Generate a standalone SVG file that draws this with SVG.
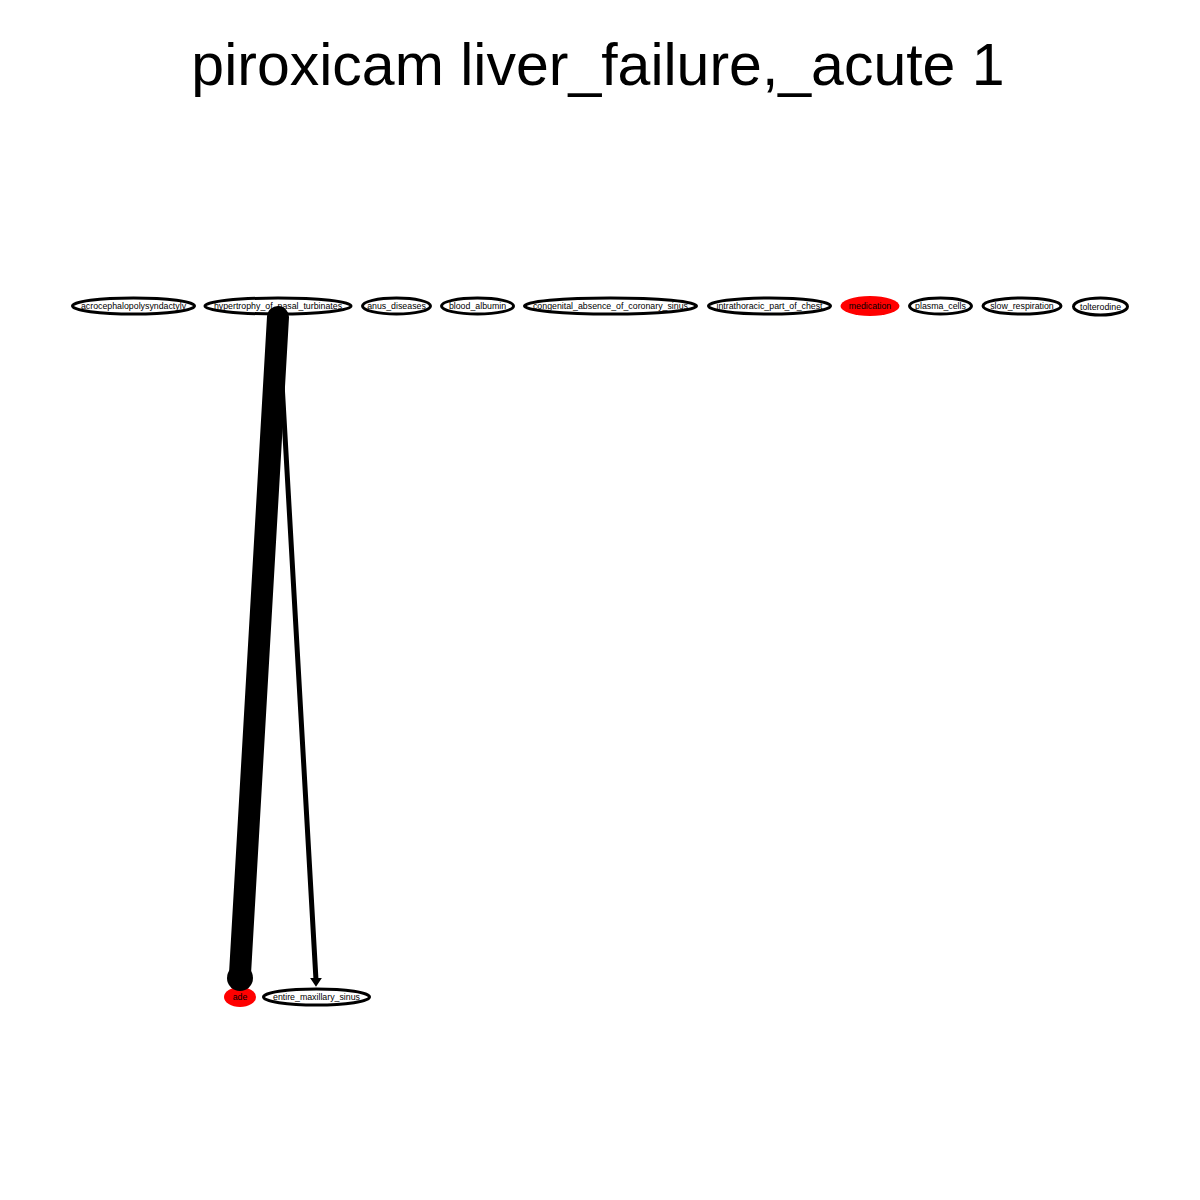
<svg xmlns="http://www.w3.org/2000/svg" width="1200" height="1200" viewBox="0 0 1200 1200">
<style>
.n ellipse{fill:#fff;stroke:#000;stroke-width:3}
.n ellipse.red{fill:#f00;stroke:none}
.n text{font-family:"Liberation Sans",Arial,sans-serif;font-size:8.8px;text-anchor:middle;fill:#000}
.title{font-family:"Liberation Sans",Arial,sans-serif;font-size:59px;text-anchor:middle;fill:#000}
</style>
<rect width="1200" height="1200" fill="#fff"/>
<text class="title" x="598" y="85">piroxicam liver_failure,_acute 1</text>
<g class="n" id="node-acrocephalopolysyndactyly"><ellipse cx="133.5" cy="306" rx="61" ry="8"/><text x="133.5" y="309">acrocephalopolysyndactyly</text></g>
<g class="n" id="node-hypertrophy_of_nasal_turbinates"><ellipse cx="278" cy="306" rx="73" ry="8"/><text x="278" y="309">hypertrophy_of_nasal_turbinates</text></g>
<g class="n" id="node-anus_diseases"><ellipse cx="396.5" cy="306" rx="34" ry="8"/><text x="396.5" y="309">anus_diseases</text></g>
<g class="n" id="node-blood_albumin"><ellipse cx="477.5" cy="306" rx="36" ry="8"/><text x="477.5" y="309">blood_albumin</text></g>
<g class="n" id="node-congenital_absence_of_coronary_sinus"><ellipse cx="610.5" cy="306" rx="86" ry="8"/><text x="610.5" y="309">congenital_absence_of_coronary_sinus</text></g>
<g class="n" id="node-intrathoracic_part_of_chest"><ellipse cx="769.5" cy="306" rx="61" ry="8"/><text x="769.5" y="309">intrathoracic_part_of_chest</text></g>
<g class="n" id="node-medication"><ellipse class="red" cx="870" cy="306" rx="29.5" ry="10"/><text x="870" y="309">medication</text></g>
<g class="n" id="node-plasma_cells"><ellipse cx="940.5" cy="306" rx="31" ry="8"/><text x="940.5" y="309">plasma_cells</text></g>
<g class="n" id="node-slow_respiration"><ellipse cx="1022" cy="306" rx="39" ry="8"/><text x="1022" y="309">slow_respiration</text></g>
<g class="n" id="node-tolterodine"><ellipse cx="1100.5" cy="306.5" rx="27" ry="8.5"/><text x="1100.5" y="310">tolterodine</text></g>
<g class="n" id="node-ade"><ellipse class="red" cx="240" cy="997" rx="16" ry="10"/><text x="240" y="1000">ade</text></g>
<g class="n" id="node-entire_maxillary_sinus"><ellipse cx="316.5" cy="997" rx="53" ry="8"/><text x="316.5" y="1000">entire_maxillary_sinus</text></g>
<g id="connectors" stroke="#000" stroke-linecap="round" fill="none">
<line x1="279" y1="330" x2="316" y2="980" stroke-width="5"/>
<path d="M312,979 L320,979 L316,985 Z" fill="#000" stroke="#000" stroke-width="2"/>
<line x1="278" y1="317" x2="240" y2="974" stroke-width="22"/>
<circle cx="240" cy="978" r="13" fill="#000" stroke="none"/>
</g>
</svg>
